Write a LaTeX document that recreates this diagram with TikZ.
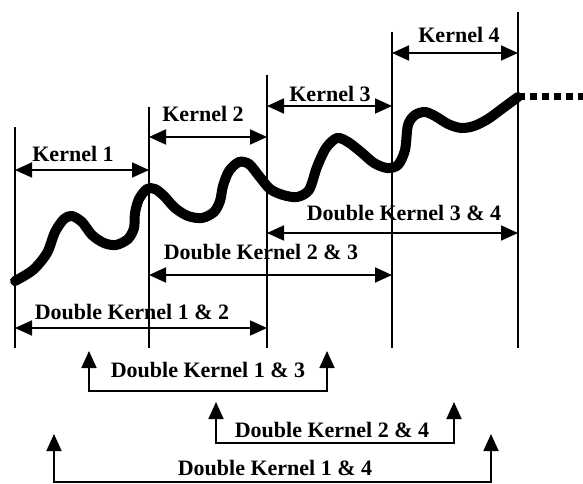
\documentclass[tikz,border=0pt]{standalone}
\usepackage{fontspec}
\setmainfont{Liberation Serif}
\usetikzlibrary{arrows.meta}

\tikzset{
	kline/.style={line width=2pt},
	span/.style={line width=1.8pt, {Triangle[length=17pt,width=15pt]}-{Triangle[length=17pt,width=15pt]}},
	lab/.style={font=\fontsize{22}{26}\selectfont\bfseries, inner sep=0pt},
	signal/.style={line width=10pt, line cap=round, line join=round},
	tail/.style={line width=7pt, dash pattern=on 7pt off 5pt}
}

\begin{document}
\begin{tikzpicture}[x=1pt,y=-1pt]
	\useasboundingbox (0,0) rectangle (583,484);

	% kernel borders
	\foreach \i/\x/\t in {1/15/127, 2/149/107, 3/267/75, 4/392/32, 5/518/12} {
		\coordinate (T\i) at (\x,\t);
		\coordinate (B\i) at (\x,348);
		\draw[kline] (T\i) -- (B\i);
	}

	% signal
	\draw[signal] plot[smooth, tension=0.5] coordinates {(15,281) (33,270) (47,253) (55,232) (64,219) (72,216) (82,222) (92,235) (104,243) (116,245) (128,239) (134,228) (135,213) (139,199) (147,189) (155,189) (164,196) (175,208) (188,216) (202,218) (214,212) (220,201) (223,186) (229,171) (239,162) (249,164) (259,176) (270,189) (283,195) (297,197) (309,190) (317,167) (326,148) (337,138) (348,142) (361,152) (374,163) (387,168) (398,165) (405,150) (408,125) (415,115) (425,112) (435,116) (448,124) (461,128) (474,126) (488,119) (503,108) (518,97)};
	\coordinate (S) at (518,97);
	\coordinate (E) at (583,97);
	\draw[tail] (S) -- (E);

	% single kernels
	\node[lab] (k1) at (73,154) {Kernel 1};
	\node[lab] (k2) at (203,114) {Kernel 2};
	\node[lab] (k3) at (330,94) {Kernel 3};
	\node[lab] (k4) at (459,35) {Kernel 4};
	\draw[span] (B1 |- 0,170) -- (B2 |- 0,170);
	\draw[span] (B2 |- 0,137) -- (B3 |- 0,137);
	\draw[span] (B3 |- 0,106) -- (B4 |- 0,106);
	\draw[span] (B4 |- 0,53) -- (B5 |- 0,53);

	% neighbouring double kernels
	\node[lab] (d34) at (404,213) {Double Kernel 3 \& 4};
	\node[lab] (d23) at (261,252) {Double Kernel 2 \& 3};
	\node[lab] (d12) at (132,312) {Double Kernel 1 \& 2};
	\draw[span] (B3 |- 0,233) -- (B5 |- 0,233);
	\draw[span] (B2 |- 0,275) -- (B4 |- 0,275);
	\draw[span] (B1 |- 0,328) -- (B3 |- 0,328);

	% spread double kernels
	\node[lab] (d13) at (208,370) {Double Kernel 1 \& 3};
	\node[lab] (d24) at (332,430) {Double Kernel 2 \& 4};
	\node[lab] (d14) at (275,468) {Double Kernel 1 \& 4};
	\coordinate (d13l) at (89,351);
	\coordinate (d13r) at (327,351);
	\coordinate (d24l) at (216,402);
	\coordinate (d24r) at (454,402);
	\coordinate (d14l) at (54,434);
	\coordinate (d14r) at (491,434);
	\draw[span] (d13l) -- ++(0,40) -| (d13r);
	\draw[span] (d24l) -- ++(0,41) -| (d24r);
	\draw[span] (d14l) -- ++(0,48) -| (d14r);
\end{tikzpicture}
\end{document}
